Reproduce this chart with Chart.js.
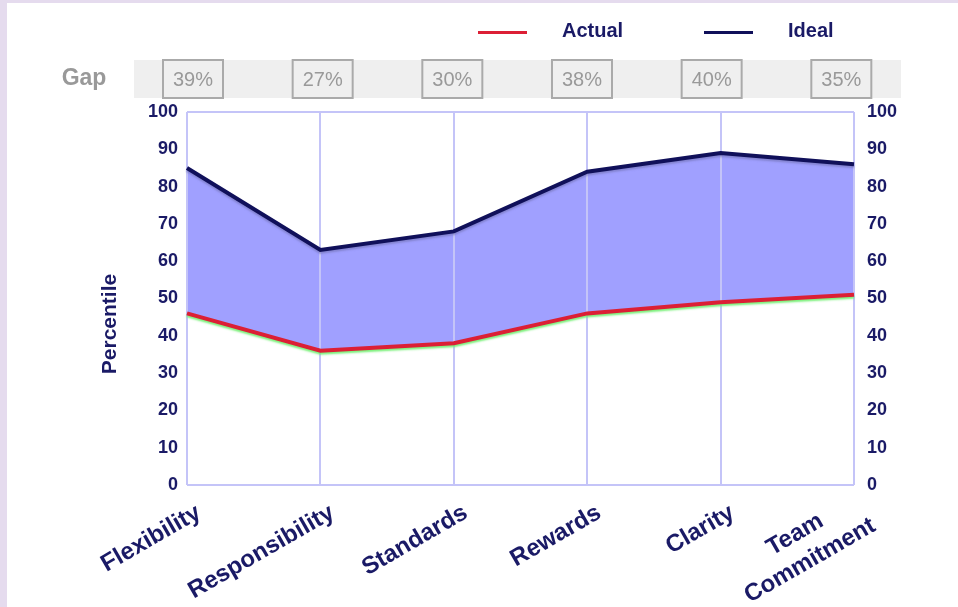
<!DOCTYPE html>
<html>
<head>
<meta charset="utf-8">
<title>Actual vs Ideal</title>
<script src="https://cdn.jsdelivr.net/npm/chart.js@4.4.1/dist/chart.umd.min.js"></script>
<style>
    html, body {
        margin: 0;
        padding: 0;
        background: #e5dbee;
        width: 958px;
        height: 607px;
        overflow: hidden;
    }
    #panel {
        position: absolute;
        left: 7px;
        top: 3px;
        width: 951px;
        height: 604px;
        background: #ffffff;
    }
</style>
</head>
<body>
<div id="panel">
    <canvas id="gapChart" width="951" height="604"></canvas>
</div>
<script>
const categories = ["Flexibility", "Responsibility", "Standards", "Rewards", "Clarity", ["Team", "Commitment"]];
const actual = [46, 36, 38, 46, 49, 51];
const ideal = [85, 63, 68, 84, 89, 86];
const yMin = 0;
const yMax = 100;
const yStep = 10;

const navy = "#1a1a66";
const lineNavy = "#10105a";
const red = "#dc1f35";
const fillBlue = "#a0a0ff";
const gridBlue = "#c4c4f8";
const gray = "#999999";
const fontFamily = '"Liberation Sans", Arial, sans-serif';

Chart.defaults.font.family = fontFamily;

// gap strip, legend, rotated category labels and the axis title
const decorations = {
    id: "decorations",
    beforeDraw(chart) {
        const ctx = chart.ctx;
        const xScale = chart.scales.x;
        const area = chart.chartArea;
        ctx.save();

        // grey strip with the gap per category
        ctx.fillStyle = "#efefef";
        ctx.fillRect(127, 57, 767, 38);

        ctx.fillStyle = gray;
        ctx.font = "bold 23px " + fontFamily;
        ctx.textAlign = "center";
        ctx.textBaseline = "middle";
        ctx.fillText("Gap", 77, 76);

        ctx.font = "20px " + fontFamily;
        ctx.strokeStyle = "#aaaaaa";
        ctx.lineWidth = 2;
        categories.forEach((c, i) => {
            // boxes sit on a slightly narrower span than the plot
            const x = area.left + 6 + (xScale.getPixelForTick(i) - area.left) * 0.972;
            ctx.strokeRect(x - 30, 57, 60, 38);
            ctx.fillText((ideal[i] - actual[i]) + "%", x, 77);
        });
        ctx.restore();
    },
    beforeDatasetDraw(chart, args) {
        const ctx = chart.ctx;
        const ds = chart.data.datasets[args.index];
        ctx.save();
        if (ds.label === "Actual") {
            ctx.shadowColor = "rgba(110, 240, 110, 0.9)";
        } else {
            ctx.shadowColor = "rgba(120, 120, 190, 0.7)";
        }
        ctx.shadowOffsetY = 2;
        ctx.shadowBlur = 2;
    },
    afterDatasetDraw(chart) {
        chart.ctx.restore();
    },
    afterDraw(chart) {
        const ctx = chart.ctx;
        const area = chart.chartArea;
        const xScale = chart.scales.x;
        ctx.save();

        // legend, Actual first
        ctx.font = "bold 20px " + fontFamily;
        ctx.textAlign = "left";
        ctx.textBaseline = "middle";
        chart.data.datasets.slice().reverse().forEach((ds, i) => {
            const x0 = 471 + i * 226;
            ctx.fillStyle = ds.borderColor;
            ctx.fillRect(x0, 28, 49, 3);
            ctx.fillStyle = navy;
            ctx.fillText(ds.label, x0 + 84, 28);
        });

        // y axis title
        ctx.save();
        ctx.translate(103, 321);
        ctx.rotate(-Math.PI / 2);
        ctx.textAlign = "center";
        ctx.font = "bold 21px " + fontFamily;
        ctx.fillStyle = navy;
        ctx.fillText("Percentile", 0, 0);
        ctx.restore();

        // category labels, rotated 30 degrees
        ctx.font = "bold 24px " + fontFamily;
        ctx.fillStyle = navy;
        ctx.textAlign = "center";
        ctx.textBaseline = "middle";
        categories.forEach((label, i) => {
            const lines = Array.isArray(label) ? label : [label];
            const widest = Math.max(...lines.map(l => ctx.measureText(l).width));
            ctx.save();
            ctx.translate(xScale.getPixelForTick(i) + 12, area.bottom + 26);
            ctx.rotate(-Math.PI / 6);
            lines.forEach((line, j) => {
                ctx.fillText(line, -widest / 2, (j - (lines.length - 1) / 2) * 30);
            });
            ctx.restore();
        });
        ctx.restore();
    }
};

const ctx = document.getElementById("gapChart").getContext("2d");

new Chart(ctx, {
    type: "line",
    data: {
        labels: categories,
        datasets: [
            {
                label: "Ideal",
                data: ideal,
                borderColor: lineNavy,
                backgroundColor: fillBlue,
                borderWidth: 4,
                pointRadius: 0,
                tension: 0,
                fill: 1
            },
            {
                label: "Actual",
                data: actual,
                borderColor: red,
                borderWidth: 4,
                pointRadius: 0,
                tension: 0,
                fill: false
            }
        ]
    },
    options: {
        responsive: false,
        animation: false,
        devicePixelRatio: 1,
        layout: {
            padding: { top: 109, left: 0, right: 0, bottom: 0 }
        },
        plugins: {
            legend: { display: false },
            tooltip: { enabled: false },
            filler: { drawTime: "beforeDraw" }
        },
        scales: {
            x: {
                offset: false,
                grid: { color: gridBlue, lineWidth: 2, drawTicks: false },
                border: { display: false },
                ticks: { display: false },
                afterFit(scale) { scale.height = 122; }
            },
            y: {
                position: "left",
                min: yMin,
                max: yMax,
                grid: {
                    drawTicks: false,
                    lineWidth: 2,
                    color: c => (c.tick.value === yMin || c.tick.value === yMax) ? gridBlue : "rgba(0,0,0,0)"
                },
                border: { display: false },
                ticks: {
                    stepSize: yStep,
                    padding: 9,
                    color: navy,
                    font: { size: 18, weight: "bold" }
                },
                afterFit(scale) { scale.width = 180; }
            },
            y2: {
                position: "right",
                min: yMin,
                max: yMax,
                grid: { display: false, drawTicks: false },
                border: { display: false },
                ticks: {
                    stepSize: yStep,
                    padding: 13,
                    color: navy,
                    font: { size: 18, weight: "bold" }
                },
                afterFit(scale) { scale.width = 104; }
            }
        }
    },
    plugins: [decorations]
});
</script>
</body>
</html>
